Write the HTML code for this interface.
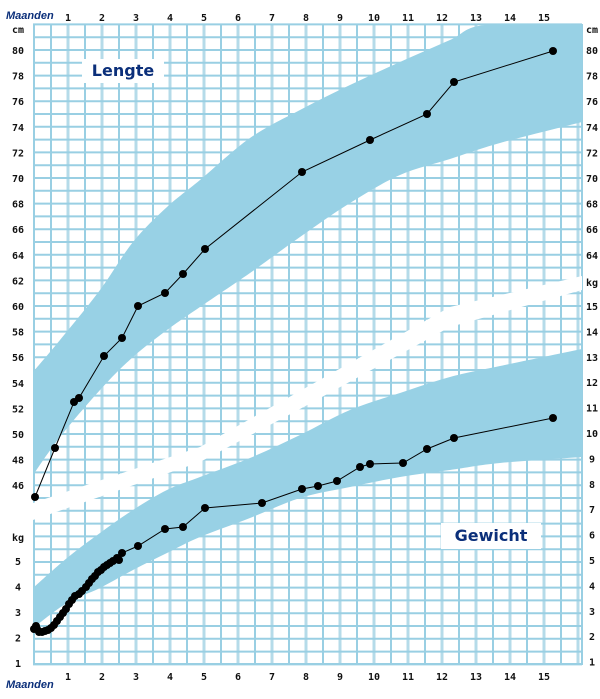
<!DOCTYPE html>
<html><head><meta charset="utf-8"><style>
html,body{margin:0;padding:0;background:#fff;}
svg{display:block;}
text{font-family:"Liberation Sans",sans-serif;}
.lab{font-size:10px;font-weight:bold;fill:#111;font-family:"DejaVu Sans Mono","Liberation Mono",monospace;}
.ttl{font-size:16px;font-weight:bold;fill:#0b2f7a;font-family:"DejaVu Sans","Liberation Sans",sans-serif;}
.mn{font-size:11px;font-weight:bold;font-style:italic;fill:#0b2f7a;}
</style></head><body>
<svg width="600" height="699" viewBox="0 0 600 699" xmlns="http://www.w3.org/2000/svg">
<g id="grid" stroke="#99cfe3" stroke-width="2"></g>
<path id="lb" fill="#98d1e5" d=""/>
<path id="wb" fill="#98d1e5" d=""/>
<path fill="#fff" d="M33,503 L200,447 L300,391 L450,307 L582,276 L582,290 L450,327 L300,409 L200,462 L33,520 Z"/>
<rect x="82" y="59" width="82" height="24" fill="#fff"/>
<text class="ttl" x="123" y="76" text-anchor="middle">Lengte</text>
<rect x="441" y="523" width="100" height="26" fill="#fff"/>
<text class="ttl" x="491" y="541" text-anchor="middle">Gewicht</text>
<g id="labels"></g>
<text class="mn" x="6" y="19">Maanden</text>
<text class="mn" x="6" y="688">Maanden</text>
<polyline fill="none" stroke="#000" stroke-width="1" points="35,497 55,448 74,402 79,398 104,356 122,338 138,306 165,293 183,274 205,249 302,172 370,140 427,114 454,82 553,51"/>
<g id="lp" fill="#000"></g>
<polyline id="wl" fill="none" stroke="#000" stroke-width="1" points=""/>
<g id="wp" fill="#000"></g>
</svg>
<script>
var NS="http://www.w3.org/2000/svg";
function el(t,a,p){var e=document.createElementNS(NS,t);for(var k in a)e.setAttribute(k,a[k]);p.appendChild(e);return e;}
function smooth(pts){var d='M'+pts[0][0]+','+pts[0][1];for(var i=0;i<pts.length-1;i++){var p0=pts[Math.max(0,i-1)],p1=pts[i],p2=pts[i+1],p3=pts[Math.min(pts.length-1,i+2)];
var c1x=p1[0]+(p2[0]-p0[0])/6,c1y=p1[1]+(p2[1]-p0[1])/6,c2x=p2[0]-(p3[0]-p1[0])/6,c2y=p2[1]-(p3[1]-p1[1])/6;d+=' C'+c1x+','+c1y+' '+c2x+','+c2y+' '+p2[0]+','+p2[1];}return d;}
function band(up,lo){var d=smooth(up);var r=lo.slice().reverse();d+=' L'+r[0][0]+','+r[0][1]+smooth(r).replace(/^M[^C]*/,' ');return d+' Z';}
document.getElementById('lb').setAttribute('d',band([[33,372],[60,340],[100,290],[133,242],[167,207],[200,180],[250,138],[300,110],[350,85],[400,62],[450,40],[485,25],[582,25]],[[33,475],[60,437],[100,390],[133,357],[167,330],[200,307],[250,273],[300,237],[350,203],[400,175],[450,159],[500,143],[582,122]]));
document.getElementById('wb').setAttribute('d',band([[33,588],[67,558],[100,533],[133,510],[167,490],[200,477],[250,458],[300,435],[350,410],[400,393],[450,377],[500,366],[582,349]],[[33,628],[67,603],[100,588],[133,570],[167,553],[200,537],[250,518],[300,498],[350,487],[400,477],[450,470],[500,463],[582,457]]));
var g=document.getElementById('grid');
for(var i=0;i<=32;i++){var x=34+17*i;el('line',{x1:x,y1:24,x2:x,y2:665,stroke:(i%2==0&&i>0)?'#b5dbe9':'#99cfe3','stroke-width':(i%2==0&&i>0)?3:2},g);}
el('line',{x1:582,y1:24,x2:582,y2:665,'stroke-width':2},g);
for(var j=0;j<=50;j++){var y=24.4+12.8*j;if(y>665)break;el('line',{x1:33,y1:y,x2:582,y2:y},g);}
el('line',{x1:33,y1:664,x2:582,y2:664},g);
var L=document.getElementById('labels');
function t(x,y,s,anc){var e=el('text',{x:x,y:y,'class':'lab','text-anchor':anc||'middle'},L);e.textContent=s;}
for(var m=1;m<=15;m++){var x=34+34*m;t(x,21,m);t(x,680,m);}
t(18,33,'cm');t(592,33,'cm');
for(var c=80;c>=46;c-=2){var y=50+(80-c)*12.8+4;t(18,y,c);if(c>=64)t(592,y,c);}
t(592,286,'kg');
for(var k=15;k>=1;k--){var y=433+(10-k)*25.4+4;t(592,y,k);}
t(18,541,'kg');
for(var k=5;k>=1;k--){var y=561+(5-k)*25.5+4;t(18,y,k);}
var lp=document.getElementById('lp');
[[35,497],[55,448],[74,402],[79,398],[104,356],[122,338],[138,306],[165,293],[183,274],[205,249],[302,172],[370,140],[427,114],[454,82],[553,51]].forEach(function(p){el('circle',{cx:p[0],cy:p[1],r:4},lp);});
var W=[[34,629],[36,626],[37,629],[39,632],[42,632],[45,631],[48,630],[51,628],[54,625],[57,621],[60,617],[63,613],[66,609],[69,604],[72,600],[75,596],[79,594],[82,591],[86,587],[89,583],[92,579],[95,576],[98,572],[101,570],[104,567],[107,565],[110,563],[113,561],[117,558],[119,560],[122,553],[138,546],[165,529],[183,527],[205,508],[262,503],[302,489],[318,486],[337,481],[360,467],[370,464],[403,463],[427,449],[454,438],[553,418]];
document.getElementById('wl').setAttribute('points',W.map(function(p){return p.join(',');}).join(' '));
var wp=document.getElementById('wp');
W.forEach(function(p){el('circle',{cx:p[0],cy:p[1],r:4},wp);});
</script>
</body></html>
